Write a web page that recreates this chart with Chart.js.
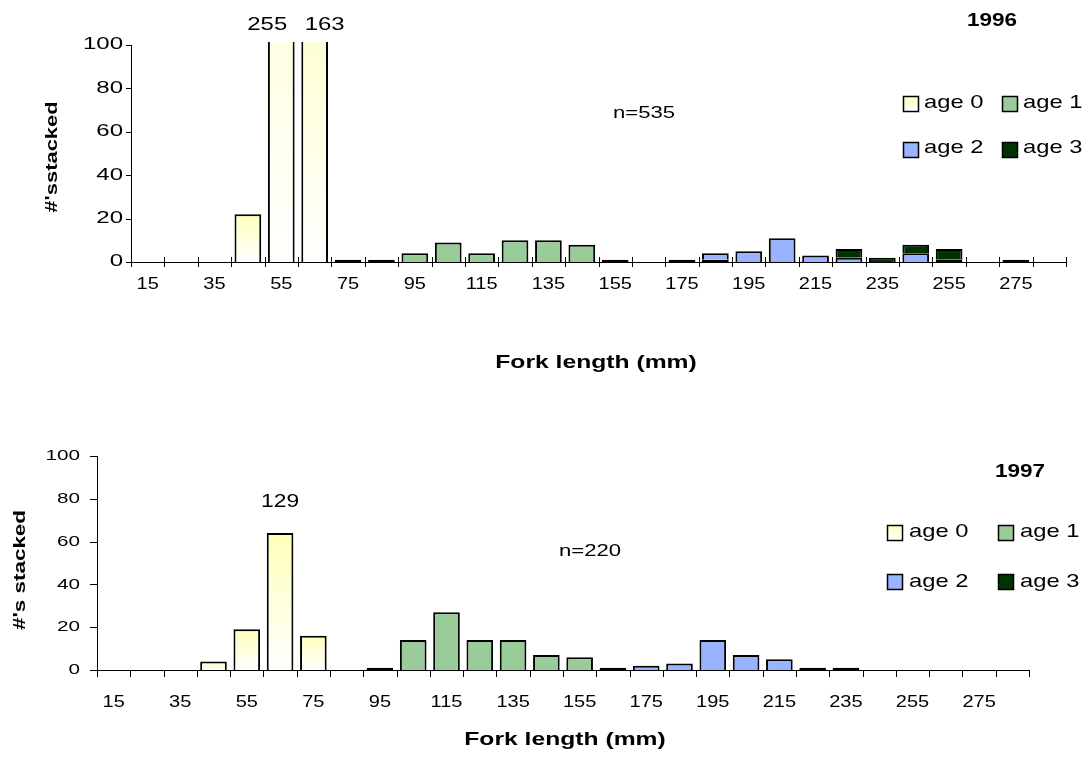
<!DOCTYPE html>
<html>
<head>
<meta charset="utf-8">
<script src="https://cdn.jsdelivr.net/npm/chart.js@4.4.1/dist/chart.umd.min.js"></script>
<style>
  html, body { margin: 0; padding: 0; background: #fff; }
  .panel { position: absolute; left: 0; width: 1089px; }
</style>
</head>
<body>
<div class="panel" style="top:0;height:380px"><canvas id="chart1996" width="1089" height="380"></canvas></div>
<div class="panel" style="top:380px;height:378px"><canvas id="chart1997" width="1089" height="378"></canvas></div>
<script>
// fork length classes (mm), one bar per class
const forkLengths = ['15', '25', '35', '45', '55', '65', '75', '85', '95', '105', '115', '125', '135', '145',
    '155', '165', '175', '185', '195', '205', '215', '225', '235', '245', '255', '265', '275', '285'];
const tickLabels = ['15', '35', '55', '75', '95', '115', '135', '155', '175', '195', '215', '235', '255', '275'];
const yTicks = [0, 20, 40, 60, 80, 100];
const ageNames = ['age 0', 'age 1', 'age 2', 'age 3'];
const ageColors = ['#FFFFBA', '#99CC99', '#99B3FF', '#003300'];

// 1996 counts per class
const age0_1996 = [0, 0, 0, 22, 255, 163, 1, 0, 0, 0, 0, 0, 0, 0, 0, 0, 0, 0, 0, 0, 0, 0, 0, 0, 0, 0, 0, 0];
const age1_1996 = [0, 0, 0, 0, 0, 0, 0, 1, 4, 9, 4, 10, 10, 8, 1, 0, 0, 1, 0, 0, 0, 0, 0, 0, 0, 0, 0, 0];
const age2_1996 = [0, 0, 0, 0, 0, 0, 0, 0, 0, 0, 0, 0, 0, 0, 0, 0, 1, 3, 5, 11, 3, 2, 0, 4, 1, 0, 0, 0];
const age3_1996 = [0, 0, 0, 0, 0, 0, 0, 0, 0, 0, 0, 0, 0, 0, 0, 0, 0, 0, 0, 0, 0, 4, 2, 4, 5, 0, 1, 0];
const notes1996 = [{ at: '55', text: '255' }, { at: '65', text: '163' }];

// 1997 counts per class
const age0_1997 = [0, 0, 0, 4, 19, 64, 16, 0, 0, 0, 0, 0, 0, 0, 0, 0, 0, 0, 0, 0, 0, 0, 0, 0, 0, 0, 0, 0];
const age1_1997 = [0, 0, 0, 0, 0, 0, 0, 0, 1, 14, 27, 14, 14, 7, 6, 1, 0, 0, 0, 0, 0, 0, 0, 0, 0, 0, 0, 0];
const age2_1997 = [0, 0, 0, 0, 0, 0, 0, 0, 0, 0, 0, 0, 0, 0, 0, 0, 2, 3, 14, 7, 5, 1, 0, 0, 0, 0, 0, 0];
const age3_1997 = [0, 0, 0, 0, 0, 0, 0, 0, 0, 0, 0, 0, 0, 0, 0, 0, 0, 0, 0, 0, 0, 0, 1, 0, 0, 0, 0, 0];
const notes1997 = [{ at: '65', text: '129' }];

const FONT = '"Liberation Sans", Arial, sans-serif';

const style1996 = {
    year: '1996',
    yTitleText: "#'sstacked",
    padding: { left: 131, right: 23, top: 45, bottom: 118 },
    xTickUp: 5, xTickDown: 5, yTickLen: 5,
    yLabel: { right: 123, font: '16px ' + FONT, sx: 1.5 },
    xLabel: { baseline: 289, font: '16px ' + FONT, sx: 1.25 },
    yTitle: { x: 52, y: 157, font: 'bold 17px ' + FONT, sx: 1.29 },
    xTitle: { x: 596, baseline: 368, font: 'bold 18px ' + FONT, sx: 1.37 },
    yearText: { x: 992, baseline: 26, font: 'bold 18px ' + FONT, sx: 1.25 },
    nText: { x: 644, baseline: 118, font: '17px ' + FONT, sx: 1.3 },
    notes: { baseline: 30, dx: [-14, 10], font: '18px ' + FONT, sx: 1.33 },
    legend: { swatchX: [903, 1002], textX: [924, 1023], swatchY: [96, 142], baseline: [108, 153], size: 15, font: '19px ' + FONT, sx: 1.25 },
};

const style1997 = {
    year: '1997',
    yTitleText: "#'s stacked",
    padding: { left: 97, right: 60, top: 76, bottom: 88 },
    xTickUp: 0, xTickDown: 7, yTickLen: 7,
    yLabel: { right: 80, font: '15px ' + FONT, sx: 1.38 },
    xLabel: { baseline: 327, font: '16px ' + FONT, sx: 1.25 },
    yTitle: { x: 20, y: 190, font: 'bold 17px ' + FONT, sx: 1.32 },
    xTitle: { x: 565, baseline: 365, font: 'bold 18px ' + FONT, sx: 1.37 },
    yearText: { x: 1020, baseline: 97, font: 'bold 18px ' + FONT, sx: 1.25 },
    nText: { x: 590, baseline: 176, font: '17px ' + FONT, sx: 1.3 },
    notes: { baseline: 127, dx: [0], font: '19px ' + FONT, sx: 1.2 },
    legend: { swatchX: [887, 998], textX: [909, 1020], swatchY: [145, 194], baseline: [157, 207], size: 15, font: '19px ' + FONT, sx: 1.25 },
};

// text in the original is drawn wide, so stretch it along its baseline
function drawText(ctx, text, x, y, font, align, sx, baseline, angle) {
    ctx.save();
    ctx.translate(x, y);
    if (angle) ctx.rotate(angle);
    ctx.scale(sx, 1);
    ctx.font = font;
    ctx.fillStyle = '#000';
    ctx.textAlign = align;
    ctx.textBaseline = baseline || 'alphabetic';
    ctx.fillText(text, 0, 0);
    ctx.restore();
}

function ageZeroFill(c) {
    const chart = c.chart;
    if (c.type !== 'data' || !chart.chartArea) return ageColors[0];
    const ys = chart.scales.y;
    const top = ys.getPixelForValue(c.raw || 0);
    const base = ys.getPixelForValue(0);
    if (base - top < 1) return ageColors[0];
    const g = chart.ctx.createLinearGradient(0, top, 0, base);
    g.addColorStop(0, ageColors[0]);
    g.addColorStop(1, '#FFFFFF');
    return g;
}

const panelText = {
    id: 'panelText',
    afterDraw(chart) {
        const p = chart.options.plugins.panelText;
        const ctx = chart.ctx;
        const xs = chart.scales.x;
        const ys = chart.scales.y;
        const area = chart.chartArea;
        const half = (area.right - area.left) / forkLengths.length / 2;

        // tick marks
        ctx.save();
        ctx.strokeStyle = '#000';
        ctx.lineWidth = 1;
        ctx.beginPath();
        for (let i = 0; i <= forkLengths.length; i++) {
            const x = Math.round(xs.getPixelForValue(i) - half) + 0.5;
            ctx.moveTo(x, area.bottom - p.xTickUp);
            ctx.lineTo(x, area.bottom + p.xTickDown);
        }
        yTicks.forEach((v) => {
            const y = Math.round(ys.getPixelForValue(v)) + 0.5;
            ctx.moveTo(area.left - p.yTickLen, y);
            ctx.lineTo(area.left, y);
        });
        ctx.stroke();
        ctx.restore();

        // tick labels
        yTicks.forEach((v) => {
            drawText(ctx, String(v), p.yLabel.right, ys.getPixelForValue(v), p.yLabel.font, 'right', p.yLabel.sx, 'middle');
        });
        tickLabels.forEach((t) => {
            const x = xs.getPixelForValue(forkLengths.indexOf(t));
            drawText(ctx, t, x, p.xLabel.baseline, p.xLabel.font, 'center', p.xLabel.sx);
        });

        // titles
        drawText(ctx, p.yTitleText, p.yTitle.x, p.yTitle.y, p.yTitle.font, 'center', p.yTitle.sx, 'middle', -Math.PI / 2);
        drawText(ctx, 'Fork length (mm)', p.xTitle.x, p.xTitle.baseline, p.xTitle.font, 'center', p.xTitle.sx);
        drawText(ctx, p.year, p.yearText.x, p.yearText.baseline, p.yearText.font, 'center', p.yearText.sx);

        // sample size from the data
        let total = 0;
        chart.data.datasets.forEach((ds) => ds.data.forEach((v) => { total += v || 0; }));
        drawText(ctx, 'n=' + total, p.nText.x, p.nText.baseline, p.nText.font, 'center', p.nText.sx);

        // counts written above the tall bars
        p.noteList.forEach((n, i) => {
            const x = xs.getPixelForValue(forkLengths.indexOf(n.at)) + (p.notes.dx[i] || 0);
            drawText(ctx, n.text, x, p.notes.baseline, p.notes.font, 'center', p.notes.sx);
        });

        // legend, 2 x 2
        const lg = p.legend;
        ageNames.forEach((name, i) => {
            const col = i % 2;
            const row = Math.floor(i / 2);
            const sx = lg.swatchX[col];
            const sy = lg.swatchY[row];
            ctx.save();
            if (i === 0) {
                const g = ctx.createLinearGradient(0, sy, 0, sy + lg.size);
                g.addColorStop(0, ageColors[0]);
                g.addColorStop(1, '#FFFFFF');
                ctx.fillStyle = g;
            } else {
                ctx.fillStyle = ageColors[i];
            }
            ctx.fillRect(sx, sy, lg.size, lg.size);
            ctx.strokeStyle = '#000';
            ctx.lineWidth = 1.5;
            ctx.strokeRect(sx + 0.5, sy + 0.5, lg.size, lg.size);
            ctx.restore();
            drawText(ctx, name, lg.textX[col], lg.baseline[row], lg.font, 'left', lg.sx);
        });
    },
};

function makeChart(canvasId, series, notes, style) {
    const datasets = series.map((values, i) => ({
        label: ageNames[i],
        data: values.map((v) => (v === 0 ? null : v)),
        backgroundColor: i === 0 ? ageZeroFill : ageColors[i],
        borderColor: '#000',
        borderWidth: 2,
        // single counts are so thin that they read as a solid black dash
        borderSkipped: (c) => (c.raw !== null && c.raw <= 1 ? false : 'start'),
        categoryPercentage: 0.8,
        barPercentage: 1,
        clip: { left: 5, right: 5, top: 3, bottom: 5 },
    }));

    return new Chart(document.getElementById(canvasId), {
        type: 'bar',
        data: { labels: forkLengths, datasets: datasets },
        options: {
            responsive: false,
            animation: false,
            layout: { padding: style.padding },
            scales: {
                x: {
                    stacked: true,
                    grid: { display: false, drawTicks: false },
                    ticks: { display: false },
                    border: { display: true, color: '#000', width: 1 },
                    afterFit: (s) => { s.height = 0; },
                },
                y: {
                    stacked: true,
                    min: 0,
                    max: 100,
                    grid: { display: false, drawTicks: false },
                    ticks: { display: false, stepSize: 20 },
                    border: { display: true, color: '#000', width: 1 },
                    afterFit: (s) => { s.width = 0; },
                },
            },
            plugins: {
                legend: { display: false },
                tooltip: { enabled: false },
                panelText: Object.assign({ noteList: notes }, style),
            },
        },
        plugins: [panelText],
    });
}

makeChart('chart1996', [age0_1996, age1_1996, age2_1996, age3_1996], notes1996, style1996);
makeChart('chart1997', [age0_1997, age1_1997, age2_1997, age3_1997], notes1997, style1997);
</script>
</body>
</html>
